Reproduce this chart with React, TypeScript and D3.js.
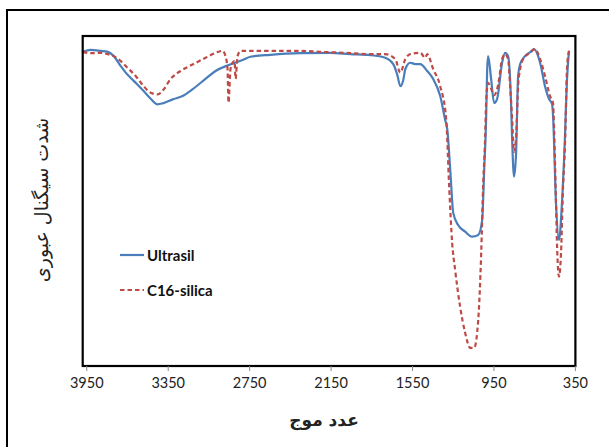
import React from "react";
import * as d3 from "d3";

const tickValues = [3950, 3350, 2750, 2150, 1550, 950, 350];

const ultrasilWave = [3979,3921,3847,3795,3751,3700,3663,3604,3531,3479,3428,3391,3317,3244,3170,3075,3001,2905,2802,2744,2597,2376,2155,2008,1861,1751,1692,1662,1640,1618,1603,1567,1530,1493,1442,1398,1346,1309,1294,1272,1250,1214,1162,1111,1066,1037,1022,1008,1000,993,971,949,927,890,868,846,824,816,802,787,772,757,721,669,655,610,574,544,522,515,493,471,449,427,412,397];
const ultrasilT = [95.2,95.8,95.5,95.2,93.9,90.9,88.9,86.4,83.3,81.0,79.3,79.6,80.8,81.8,83.9,87.0,89.4,91.2,92.7,93.7,94.3,94.8,94.9,94.5,94.2,93.4,91.5,88.2,84.8,86.7,90.0,91.9,91.5,91.5,89.4,87.0,81.8,74.5,71.8,59.4,46.4,42.7,40.7,39.2,39.7,44.2,59.4,74.5,90.0,93.9,87.0,79.7,80.9,91.9,94.9,93.9,79.7,68.5,57.4,64.5,87.9,91.5,93.9,95.5,96.0,91.9,84.8,80.9,79.4,76.1,49.4,38.2,49.4,69.4,86.7,95.5];

const c16Wave = [3979,3921,3847,3795,3751,3700,3641,3590,3531,3479,3428,3384,3332,3259,3163,3075,3001,2950,2928,2913,2906,2891,2876,2861,2854,2839,2817,2376,2229,2045,1861,1751,1677,1640,1603,1567,1493,1456,1442,1398,1346,1302,1280,1258,1236,1199,1162,1125,1096,1066,1044,1030,1015,1008,993,978,949,919,890,868,846,831,816,802,787,772,757,735,699,647,610,574,537,515,507,493,485,471,456,441,427,412,397];
const c16T = [95.2,94.8,94.9,94.5,93.9,92.4,90.0,87.9,84.8,82.8,82.3,83.8,87.0,89.4,91.5,93.4,94.9,95.5,93.9,90.0,79.8,90.0,91.9,92.4,87.0,93.9,95.5,95.5,95.2,94.9,94.5,94.5,93.0,88.9,93.0,94.5,94.9,93.4,94.5,90.0,84.8,74.8,54.3,37.3,29.1,17.9,10.0,5.5,5.5,13.9,34.2,54.3,69.4,79.7,85.8,84.8,82.1,85.2,93.0,94.5,93.0,84.8,74.5,64.9,69.4,84.8,90.0,93.0,94.5,96.0,93.0,87.9,81.8,79.7,71.8,49.4,36.2,27.1,34.2,54.3,66.4,90.0,95.5];

const seriesNames = ["Ultrasil", "C16-silica"];
const xTitle = "عدد موج";
const yTitle = "شدت سیگنال عبوری";

export default function App() {
  const W = 609, H = 447;
  const left = 82.7, right = 575.4, top = 36, bottom = 366;
  const x = d3.scaleLinear().domain([3980, 350]).range([left, right]);
  const y = d3.scaleLinear().domain([0, 100]).range([bottom, top]);
  const line = d3.line<[number, number]>().x(d => x(d[0])).y(d => y(d[1])).curve(d3.curveMonotoneX);
  const uData = ultrasilWave.map((w, i) => [w, ultrasilT[i]] as [number, number]);
  const cData = c16Wave.map((w, i) => [w, c16T[i]] as [number, number]);
  const blue = "#4A7EBB";
  const red = "#BE4B48";
  return (
    <svg width={W} height={H} style={{ position: "absolute", left: 0, top: 0 }}>
      <rect x={0} y={0} width={W} height={H} fill="#fff" />
      <rect x={7} y={10} width={640} height={480} fill="none" stroke="#000" strokeWidth={2} />
      <path d={line(uData) || ""} fill="none" stroke={blue} strokeWidth={2.2} />
      <path d={line(cData) || ""} fill="none" stroke={red} strokeWidth={2.2} strokeDasharray="4.5,3" />
      <rect x={left} y={top} width={right - left} height={bottom - top} fill="none" stroke="#000" strokeWidth={2.2} />
      {tickValues.map(t => (
        <g key={t}>
          <line x1={x(t)} x2={x(t)} y1={bottom} y2={bottom + 5} stroke="#888" strokeWidth={1} />
          <text x={x(t)} y={388} textAnchor="middle" fontFamily="Lato" fontSize={14.5} fill="#222">{t}</text>
        </g>
      ))}
      <text x={324} y={426} textAnchor="middle" fontFamily="DejaVu Sans" fontWeight="bold" fontSize={17} fill="#222">{xTitle}</text>
      <text transform="translate(48,200) rotate(-90)" textAnchor="middle" fontFamily="DejaVu Sans" fontSize={19} fill="#222">{yTitle}</text>
      <line x1={120} x2={144} y1={255} y2={255} stroke={blue} strokeWidth={2.2} />
      <text x={147} y={260.5} fontFamily="Lato" fontWeight="bold" fontSize={15} fill="#111">{seriesNames[0]}</text>
      <line x1={120} x2={144} y1={290} y2={290} stroke={red} strokeWidth={2.2} strokeDasharray="4.5,3" />
      <text x={147} y={295.5} fontFamily="Lato" fontWeight="bold" fontSize={15} fill="#111">{seriesNames[1]}</text>
    </svg>
  );
}
